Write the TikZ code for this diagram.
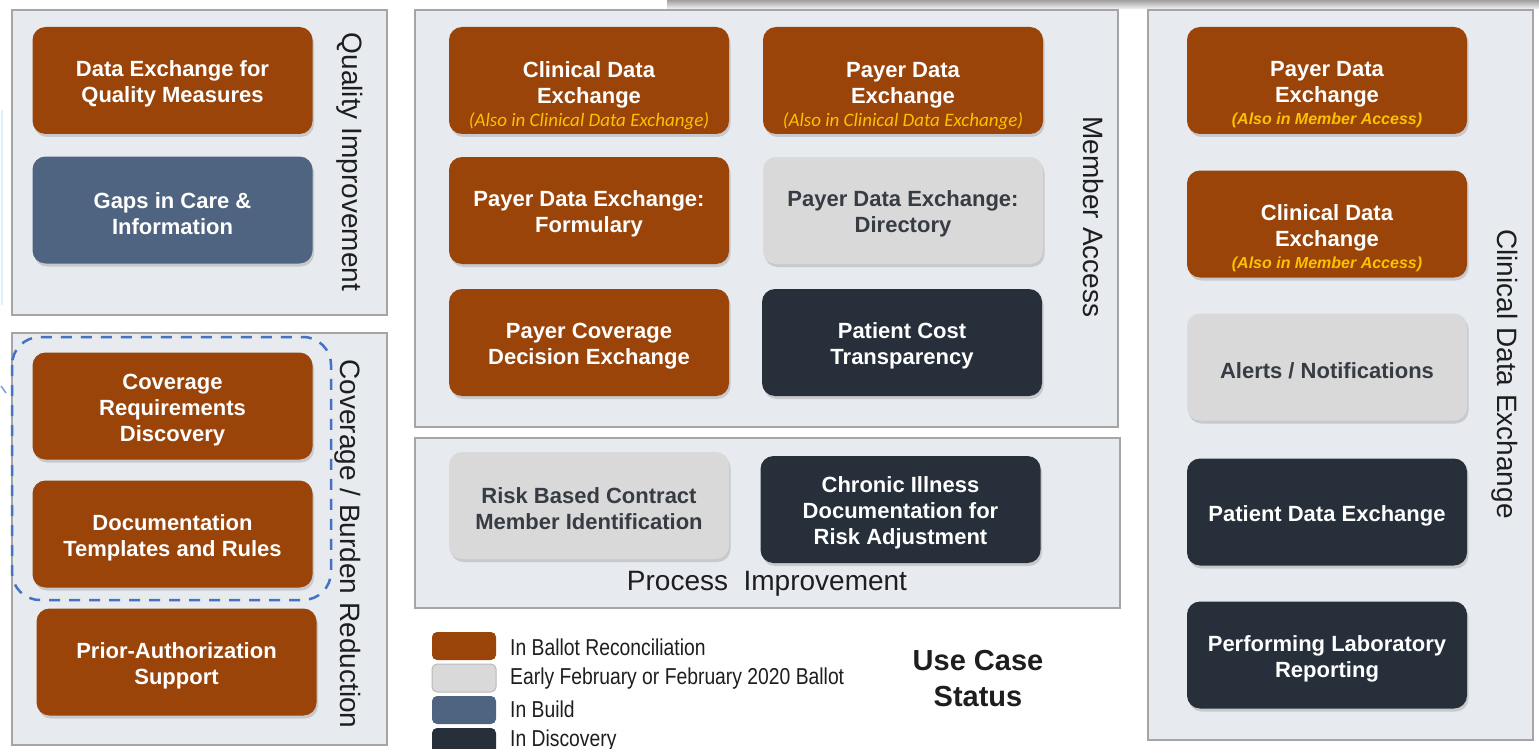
\documentclass[tikz,border=0pt]{standalone}
\usepackage{fontspec}
\setmainfont{Liberation Sans}
\newfontfamily\calfont{Carlito}
\newfontfamily\narrowfont[FakeStretch=0.84]{Liberation Sans}
\usetikzlibrary{shadows}
\definecolor{orng}{RGB}{154,68,10}
\definecolor{lgrey}{RGB}{217,217,217}
\definecolor{slate}{RGB}{79,100,128}
\definecolor{navy}{RGB}{38,47,58}
\definecolor{panelfill}{RGB}{231,234,238}
\definecolor{panelline}{RGB}{165,165,165}
\definecolor{gold}{RGB}{255,192,0}
\definecolor{dashblue}{RGB}{68,114,196}
\definecolor{greytext}{RGB}{55,60,68}
\definecolor{labeltext}{RGB}{30,30,30}
\newcommand\alsotxt[1]{{\calfont\mdseries\itshape\fontsize{19}{22}\selectfont\color{gold}#1}}
\newcommand\alsotxtb[1]{{\bfseries\itshape\fontsize{16}{19}\selectfont\color{gold}#1}}
\newcommand\tstrut{\rule{0pt}{23pt}}
\tikzset{
 panel/.style={draw=panelline, fill=panelfill, line width=1.5pt},
 uc/.style={rounded corners=13pt, minimum width=280pt, minimum height=107pt, inner sep=0pt,
   align=center, font=\fontsize{22}{26}\selectfont\bfseries,
   drop shadow={shadow xshift=1.5pt, shadow yshift=-3pt, opacity=0.3}},
 ballot/.style={uc, fill=orng, text=white},
 early/.style={uc, fill=lgrey, text=greytext},
 build/.style={uc, fill=slate, text=white},
 disc/.style={uc, fill=navy, text=white},
 boxtext/.style={align=center, inner sep=0pt, font=\fontsize{22}{26}\selectfont\bfseries},
 sidelabel/.style={rotate=-90, font=\fontsize{28}{32}\selectfont, text=labeltext, inner sep=0pt},
 swatch/.style={rounded corners=5pt, minimum width=64pt, minimum height=28pt, inner sep=0pt},
 legtext/.style={anchor=west, font=\narrowfont\fontsize{23}{26}\selectfont, text=labeltext, inner sep=0pt},
}
\begin{document}
\begin{tikzpicture}[x=1pt,y=-1pt]
\useasboundingbox (0,0) rectangle (1539,749);
\begin{scope}
\clip (0,0) rectangle (1539,749);
\fill[white] (0,0) rectangle (1539,749);
% partial box at the top
\shade[top color=gray!75, bottom color=gray!10] (667,0) rectangle (1539,9);
% faint marks at the left edge
\draw[cyan!15, line width=1.5pt] (2,110) -- (2,305);
\draw[dashblue!70, line width=1.5pt] (1,386) -- (6,393);

% panels
\draw[panel] (12,10) rectangle (387,315);
\draw[panel] (12,333) rectangle (387,745);
\draw[panel] (415,10) rectangle (1118,427);
\draw[panel] (415,438) rectangle (1120,608);
\draw[panel] (1148,10) rectangle (1533,740);

% Quality Improvement
\node[ballot] (dq) at (172.5,80.5) {\tstrut Data Exchange for\\Quality Measures};
\node[build] (gaps) at (172.5,210) {\tstrut Gaps in Care \&\\Information};
\node[sidelabel] (qil) at (350,162) {Quality Improvement};

% Coverage / Burden Reduction
\node[ballot] (crd) at (172.5,406) {\tstrut Coverage\\Requirements\\Discovery};
\node[ballot] (dtr) at (172.5,534) {\tstrut Documentation\\Templates and Rules};
\node[ballot] (pas) at (176.5,662) {\tstrut Prior-Authorization\\Support};
\draw[dashblue, line width=2.5pt, dash pattern=on 11pt off 9pt, rounded corners=28pt] (12,337) rectangle (331,600);
\node[sidelabel] (cbl) at (348,544) {Coverage / Burden Reduction};

% Member Access
\node[ballot] (cde) at (589,80.5) {};
\node[boxtext, text=white] (cdet) at (589,96) {Clinical Data\\Exchange\\[-3pt]\alsotxt{(Also in Clinical Data Exchange)}};
\node[ballot] (pde) at (903,80.5) {};
\node[boxtext, text=white] (pdet) at (903,96) {Payer Data\\Exchange\\[-3pt]\alsotxt{(Also in Clinical Data Exchange)}};
\node[ballot] (pdf) at (589,210.5) {\tstrut Payer Data Exchange:\\Formulary};
\node[early] (pdd) at (903,210.5) {\tstrut Payer Data Exchange:\\Directory};
\node[ballot] (pcd) at (589,342.5) {\tstrut Payer Coverage\\Decision Exchange};
\node[disc] (pct) at (902,342.5) {\tstrut Patient Cost\\Transparency};
\node[sidelabel] (mal) at (1093,217) {Member Access};

% Process Improvement
\node[early] (rbc) at (589,505.5) {\tstrut Risk Based Contract\\Member Identification};
\node[disc] (cid) at (900.5,509.5) {\tstrut Chronic Illness\\Documentation  for\\Risk Adjustment};
\node[font=\fontsize{28}{32}\selectfont, text=labeltext, inner sep=0pt] (pil) at (767,584) {Process\ \ Improvement};

% Clinical Data Exchange
\node[ballot] (rp) at (1327,80.5) {};
\node[boxtext, text=white] (rpt) at (1327,95) {Payer Data\\Exchange\\[-4pt]\alsotxtb{(Also in Member Access)}};
\node[ballot] (rc) at (1327,224) {};
\node[boxtext, text=white] (rct) at (1327,238.5) {Clinical Data\\Exchange\\[-4pt]\alsotxtb{(Also in Member Access)}};
\node[early] (al) at (1327,367) {\tstrut Alerts / Notifications};
\node[disc] (pdx) at (1327,512) {\tstrut Patient Data Exchange};
\node[disc] (plr) at (1327,655) {\tstrut Performing Laboratory\\Reporting};
\node[sidelabel] (cdl) at (1505,374) {Clinical Data Exchange};

% Legend
\node[swatch, fill=orng] (s1) at (464,646) {};
\node[swatch, fill=lgrey, draw=gray!55, line width=1pt] (s2) at (464,678) {};
\node[swatch, fill=slate] (s3) at (464,710) {};
\node[swatch, fill=navy] (s4) at (464,742) {};
\node[legtext] (l1) at (510,647) {In Ballot Reconciliation};
\node[legtext] (l2) at (510,679) {Early February or February 2020 Ballot};
\node[legtext] (l3) at (510,709) {In Build};
\node[legtext] (l4) at (510,741) {In Discovery};
\node[font=\bfseries\fontsize{29}{36}\selectfont, text=labeltext, align=center, inner sep=0pt] (ucs) at (978,679) {Use Case\\Status};
\end{scope}
\end{tikzpicture}
\end{document}
